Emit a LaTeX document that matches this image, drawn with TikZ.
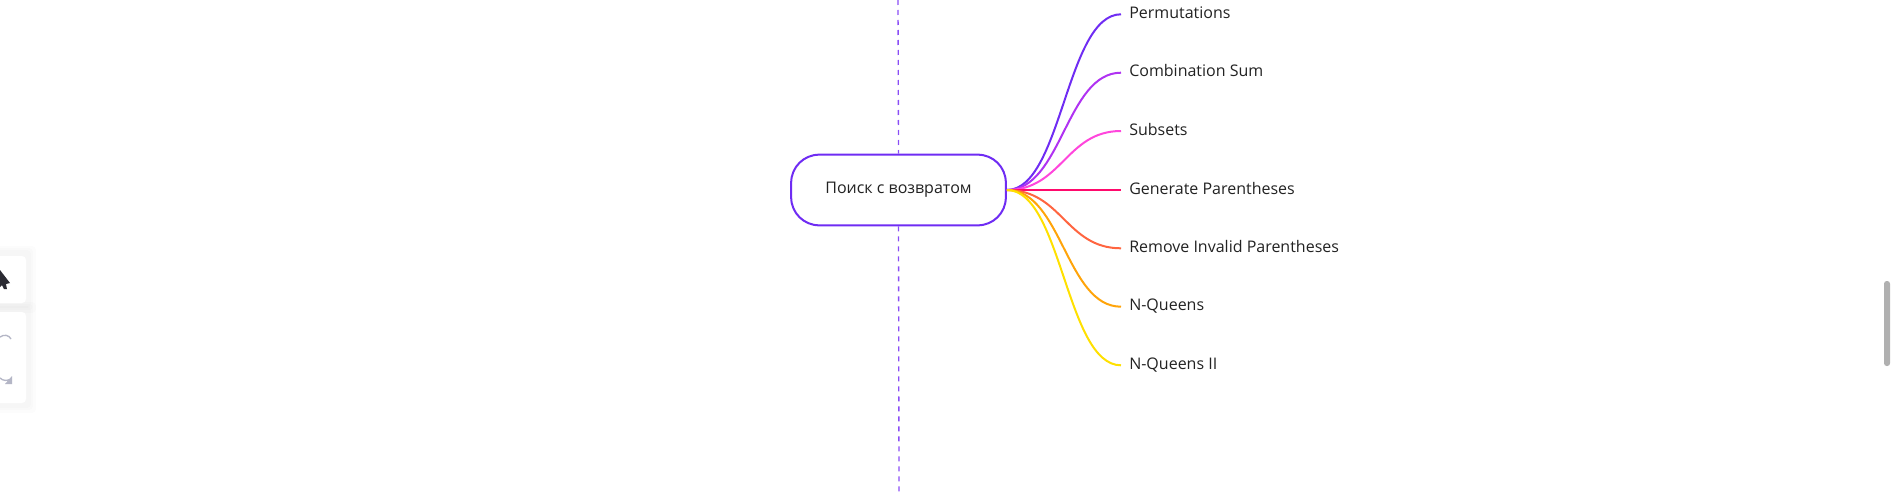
\documentclass[tikz,border=0pt]{standalone}
\usepackage{fontspec}
\setmainfont{Open Sans}
\definecolor{rootline}{HTML}{6F2CF3}
\definecolor{guideline}{HTML}{8A4DF6}
\definecolor{branchA}{HTML}{6F2CF3}
\definecolor{branchB}{HTML}{B032F2}
\definecolor{branchC}{HTML}{FF46DC}
\definecolor{branchD}{HTML}{FF0A6C}
\definecolor{branchE}{HTML}{FF6540}
\definecolor{branchF}{HTML}{FFA40A}
\definecolor{branchG}{HTML}{FFE000}
\definecolor{toolgray}{HTML}{B4B6C6}
\definecolor{toolink}{HTML}{2B2B33}
\definecolor{scrollgray}{HTML}{B0B0B0}
\definecolor{labelink}{HTML}{222222}
\tikzset{
  rootnode/.style={draw=rootline, line width=1.5pt, fill=white, rounded corners=21pt,
    minimum width=161pt, minimum height=53pt, inner sep=0pt, text=labelink, font=\fontsize{12}{14}\selectfont},
  leafnode/.style={anchor=west, inner xsep=6pt, inner ysep=0pt, text=labelink,
    text height=9pt, text depth=3pt, font=\fontsize{12}{14}\selectfont},
  branch/.style={line width=1.5pt},
  guide/.style={draw=guideline, line width=1pt, dash pattern=on 3.75pt off 3.75pt},
  toolcard/.style={fill=white, rounded corners=3pt},
  cardshade/.style={draw=black!100, opacity=0.012, line join=round},
}
\begin{document}
\begin{tikzpicture}[x=0.75pt, y=-0.75pt]
    \useasboundingbox (0,0) rectangle (1891,492);
    % left tool cards
    \fill[toolcard, black, opacity=0.012] (-20,246) rectangle (36,313);
    \fill[toolcard, black, opacity=0.012] (-20,248) rectangle (33,310);
    \fill[toolcard, black, opacity=0.012] (-20,250) rectangle (31,308);
    \fill[toolcard, black, opacity=0.012] (-20,302) rectangle (36,413);
    \fill[toolcard, black, opacity=0.012] (-20,304) rectangle (33,410);
    \fill[toolcard, black, opacity=0.012] (-20,306) rectangle (31,408);
    \fill[toolcard] (-20,256) rectangle (26,303);
    \fill[toolcard] (-20,312) rectangle (26,403);
    \fill[toolink] (0,270) -- (10,283) -- (6,284) -- (7,289) -- (4,289) -- (2,285) -- (0,287) -- cycle;
    \draw[toolgray, line width=1pt] (0,337) .. controls (4,334) and (9,335) .. (11,339);
    \draw[toolgray, line width=1pt] (0,378) .. controls (3,381) and (7,381) .. (11,379);
    \fill[toolgray] (12,376) -- (12,384) -- (5,384) -- cycle;
    % scrollbar
    \fill[scrollgray, rounded corners=2pt] (1884,281) rectangle (1890,366);
    % guide line
    \node[rootnode] (root) at (898.5,190) {Поиск с возвратом};
    \coordinate (guidetop) at (898,0);
    \coordinate (guidebot) at (899,492);
    \draw[guide] (guidetop) -- (root.north);
    \draw[guide] (root.south) -- (guidebot);
    % leaves
    \node[leafnode] (perm) at (1121,14.3) {Permutations};
    \node[leafnode] (combo) at (1121,72.7) {Combination Sum};
    \node[leafnode] (subs) at (1121,131) {Subsets};
    \node[leafnode] (genp) at (1121,190) {Generate Parentheses};
    \node[leafnode] (remp) at (1121,248.3) {Remove Invalid Parentheses};
    \node[leafnode] (queens) at (1121,306.7) {N-Queens};
    \node[leafnode] (queenstwo) at (1121,365.3) {N-Queens II};
    % branches
    \draw[branch, branchA] (root.east) .. controls +(55,0) and +(-55,0) .. (perm.west);
    \draw[branch, branchB] (root.east) .. controls +(55,0) and +(-55,0) .. (combo.west);
    \draw[branch, branchC] (root.east) .. controls +(55,0) and +(-55,0) .. (subs.west);
    \draw[branch, branchD] (root.east) -- (genp.west);
    \draw[branch, branchE] (root.east) .. controls +(55,0) and +(-55,0) .. (remp.west);
    \draw[branch, branchF] (root.east) .. controls +(55,0) and +(-55,0) .. (queens.west);
    \draw[branch, branchG] (root.east) .. controls +(55,0) and +(-55,0) .. (queenstwo.west);
\end{tikzpicture}
\end{document}
